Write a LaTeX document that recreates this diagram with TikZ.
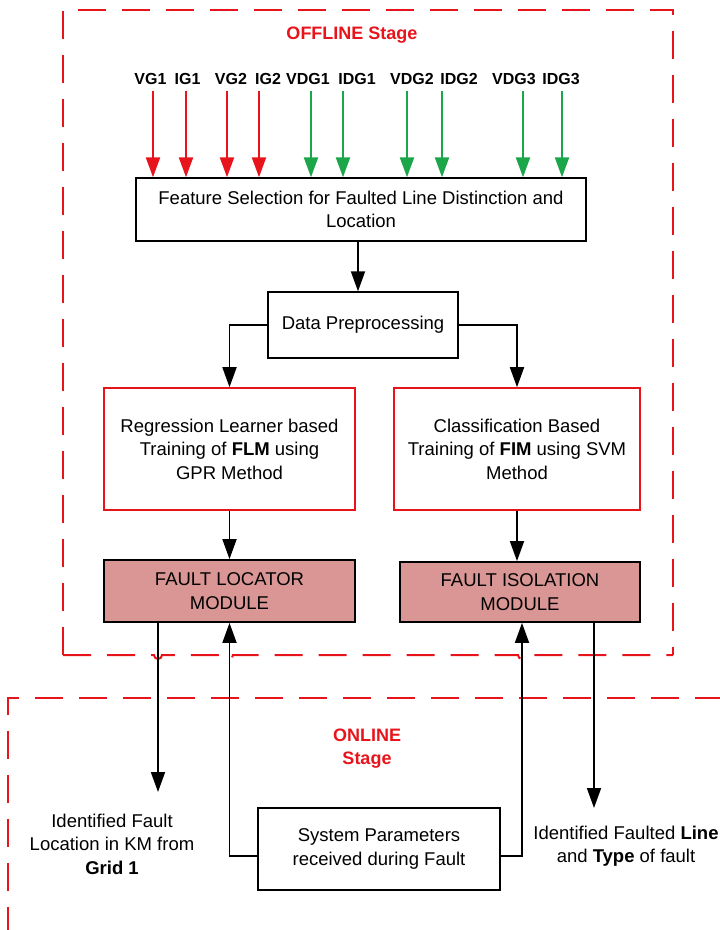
\documentclass[tikz,border=0pt]{standalone}
\usepackage{fontspec}
\setmainfont{Liberation Sans}
\usetikzlibrary{arrows.meta}
\definecolor{stagered}{HTML}{E8141B}
\definecolor{ingreen}{HTML}{1BA64A}
\definecolor{modfill}{HTML}{D99694}
\begin{document}
\begin{tikzpicture}[x=1pt,y=-1pt,
  txt/.style={font=\fontsize{18.5}{23.5}\selectfont, align=center},
  lbl/.style={font=\fontsize{16}{18}\selectfont\bfseries, inner sep=2pt},
  stagelbl/.style={font=\fontsize{18}{23}\selectfont\bfseries, text=stagered, align=center},
  plainbox/.style={draw=black, line width=1.4pt, fill=white, txt},
  trainbox/.style={draw=stagered, line width=1.6pt, fill=white, txt},
  modbox/.style={draw=black, line width=1.8pt, fill=modfill, txt},
  stagebox/.style={draw=stagered, line width=2pt, dash pattern=on 28pt off 16pt},
  tip/.style={-{Triangle[length=20pt,width=14pt]}},
  conn/.style={draw=black, line width=1.8pt},
  redin/.style={draw=stagered, fill=stagered, line width=2.2pt, tip},
  greenin/.style={draw=ingreen, fill=ingreen, line width=2.2pt, tip},
]
\useasboundingbox (0,0) rectangle (720,930);

% stage frames
\draw[stagebox] (63,655) -- (63,10) -- (673,10) -- (673,655);
\draw[stagebox] (63,655) -- (154,655) arc[start angle=180,end angle=0,radius=4]
  -- (225,655) arc[start angle=180,end angle=0,radius=4]
  -- (518,655) arc[start angle=180,end angle=0,radius=4] -- (673,655);
\draw[stagebox] (8,935) -- (8,698) -- (740,698);

\node[stagelbl] (offl) at (352,35) {OFFLINE Stage};
\node[stagelbl] (onl) at (367,749) {ONLINE\\Stage};

% input signals: labels and their arrow columns
\node[lbl] (vg1) at (150.5,79) {VG1};
\node[lbl] (ig1) at (187.5,79) {IG1};
\node[lbl] (vg2) at (231,79) {VG2};
\node[lbl] (ig2) at (268,79) {IG2};
\node[lbl] (vdg1) at (308,79) {VDG1};
\node[lbl] (idg1) at (357,79) {IDG1};
\node[lbl] (vdg2) at (412,79) {VDG2};
\node[lbl] (idg2) at (459,79) {IDG2};
\node[lbl] (vdg3) at (514,79) {VDG3};
\node[lbl] (idg3) at (561,79) {IDG3};
\foreach \n/\x in {vg1/153,ig1/186,vg2/227,ig2/259,vdg1/311,idg1/343,vdg2/407,idg2/442,vdg3/523,idg3/562}
  \coordinate (\n-top) at (\x,91);

% processing blocks
\node[plainbox, minimum width=450pt, minimum height=63pt] (feat) at (361,209.5)
  {Feature Selection for Faulted Line Distinction and\\Location};
\node[plainbox, minimum width=190pt, minimum height=66pt] (prep) at (363,325)
  {Data Preprocessing};
\node[trainbox, minimum width=251pt, minimum height=122pt] (reg) at (229.5,449)
  {Regression Learner based\\Training of \textbf{FLM} using\\GPR Method};
\node[trainbox, minimum width=246pt, minimum height=122pt] (cls) at (517,449)
  {Classification Based\\Training of \textbf{FIM} using SVM\\Method};
\node[modbox, minimum width=251pt, minimum height=62pt] (flm) at (229.5,591)
  {FAULT LOCATOR\\MODULE};
\node[modbox, minimum width=240pt, minimum height=60pt] (fim) at (520,592)
  {FAULT ISOLATION\\MODULE};
\node[plainbox, minimum width=242pt, minimum height=82pt] (sys) at (379,849)
  {System Parameters\\received during Fault};

% outputs
\node[txt] (locout) at (112,844) {Identified Fault\\Location in KM from\\\textbf{Grid 1}};
\node[txt] (lineout) at (626,846) {Identified Faulted \textbf{Line}\\and \textbf{Type} of fault};
\coordinate (locend) at (158,792);
\coordinate (lineend) at (594,808);

% input arrows
\foreach \n in {vg1,ig1,vg2,ig2}
  \draw[redin] (\n-top) -- (\n-top |- feat.north);
\foreach \n in {vdg1,idg1,vdg2,idg2,vdg3,idg3}
  \draw[greenin] (\n-top) -- (\n-top |- feat.north);

% flow connectors
\draw[conn, tip] (feat.south -| 358,0) -- (prep.north -| 358,0);
\draw[conn, tip] (prep.west) -| (reg.north);
\draw[conn, tip] (prep.east) -| (cls.north);
\draw[conn, tip] (reg.south) -- (flm.north);
\draw[conn, tip] (cls.south -| 517,0) -- (fim.north -| 517,0);

% online connectors
\draw[conn, tip] (flm.south -| locend) -- (locend);
\draw[conn, tip] (fim.south -| lineend) -- (lineend);
\draw[conn, tip] (sys.west |- 0,856) -| (flm.south);
\draw[conn, tip] (sys.east |- 0,856) -| (fim.south -| 522,0);
\end{tikzpicture}
\end{document}
